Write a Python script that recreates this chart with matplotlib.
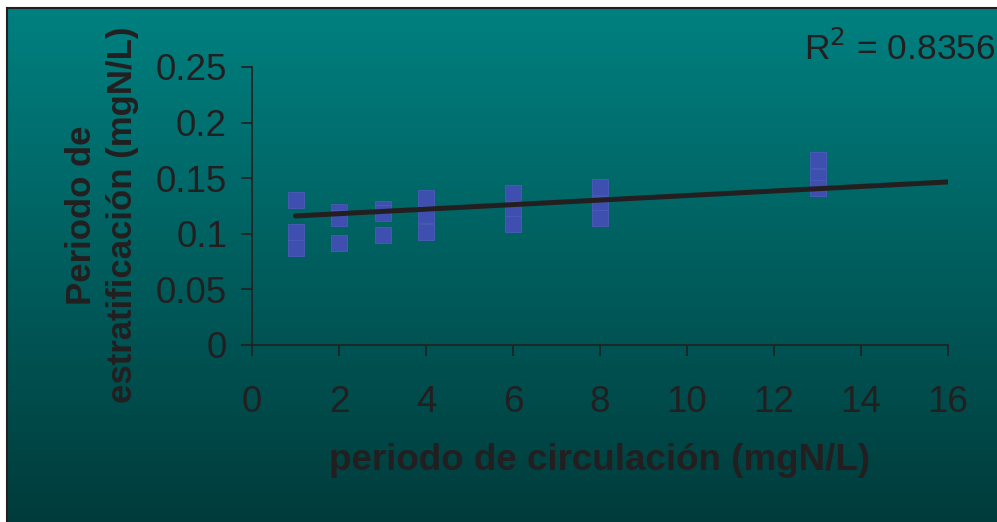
import numpy as np
import matplotlib
matplotlib.use("Agg")
import matplotlib.pyplot as plt
from matplotlib.colors import LinearSegmentedColormap

plt.rcParams['font.family'] = ['Liberation Sans', 'DejaVu Sans']

# Data
x_vals = [1, 1, 1, 2, 2, 2, 3, 3, 3, 4, 4, 4, 6, 6, 6, 8, 8, 8, 13, 13, 13]
y_vals = [0.130, 0.102, 0.087, 0.120, 0.114, 0.092, 0.122, 0.119, 0.099,
          0.132, 0.117, 0.102, 0.137, 0.121, 0.109, 0.142, 0.127, 0.114,
          0.166, 0.151, 0.141]
trend_slope = 0.00204
trend_intercept = 0.1140
trend_x = [1, 16]
r2_text = "R$^2$ = 0.8356"
x_ticks = [0, 2, 4, 6, 8, 10, 12, 14, 16]
y_ticks = [0, 0.05, 0.1, 0.15, 0.2, 0.25]
y_tick_labels = ["0", "0.05", "0.1", "0.15", "0.2", "0.25"]
x_label = "periodo de circulación (mgN/L)"
y_label = "Periodo de\nestratificación (mgN/L)"

W, H = 997, 522
fig = plt.figure(figsize=(W / 100, H / 100), dpi=100)
fig.patch.set_facecolor('white')

# Gradient background panel
bg = fig.add_axes([7 / W, 0, (W - 7) / W, (H - 8) / H], zorder=0)
cmap = LinearSegmentedColormap.from_list('tealgrad', ['#003b3b', '#008080'])
grad = np.linspace(0, 1, 256).reshape(-1, 1)
bg.imshow(grad, aspect='auto', cmap=cmap, origin='lower', extent=[0, 1, 0, 1])
bg.set_xlim(0, 1)
bg.set_ylim(0, 1)
bg.set_xticks([])
bg.set_yticks([])
for s in ['right', 'bottom']:
    bg.spines[s].set_visible(False)
for s in ['top', 'left']:
    bg.spines[s].set_color('#231f20')
    bg.spines[s].set_linewidth(1.5)

txt = '#231f20'
ax = fig.add_axes([252 / W, 1 - 345 / H, (948 - 252) / W, (345 - 67) / H], zorder=1)
ax.patch.set_alpha(0)
ax.plot(x_vals, y_vals, linestyle='none', marker='s', markersize=11.5,
        markerfacecolor='#3f4fb0', markeredgecolor='#4b5bb8', markeredgewidth=0.6, zorder=2)
tx = np.array(trend_x, dtype=float)
ax.plot(tx, trend_slope * tx + trend_intercept, color=txt, linewidth=3.6,
        solid_capstyle='round', zorder=3)

ax.set_xlim(0, 16)
ax.set_ylim(0, 0.25)
ax.set_xticks(x_ticks)
ax.set_yticks(y_ticks)
ax.set_yticklabels(y_tick_labels)
ax.tick_params(axis='both', direction='out', length=8, width=1.2, color=txt,
               labelcolor=txt, labelsize=26.5)
ax.tick_params(axis='x', pad=21)
ax.tick_params(axis='y', pad=10)
for s in ['top', 'right']:
    ax.spines[s].set_visible(False)
for s in ['left', 'bottom']:
    ax.spines[s].set_color(txt)
    ax.spines[s].set_linewidth(1.2)

fig.text(600 / W, 1 - 460 / H, x_label, ha='center', va='center',
         fontsize=26.5, fontweight='bold', color=txt)
fig.text(102 / W, 1 - 215 / H, y_label, ha='center', va='center', rotation=90,
         fontsize=25, fontweight='bold', color=txt, linespacing=1.28)
fig.text(900 / W, 1 - 49 / H, r2_text, ha='center', va='center',
         fontsize=25.5, color=txt)

fig.savefig('out.png', dpi=100)
